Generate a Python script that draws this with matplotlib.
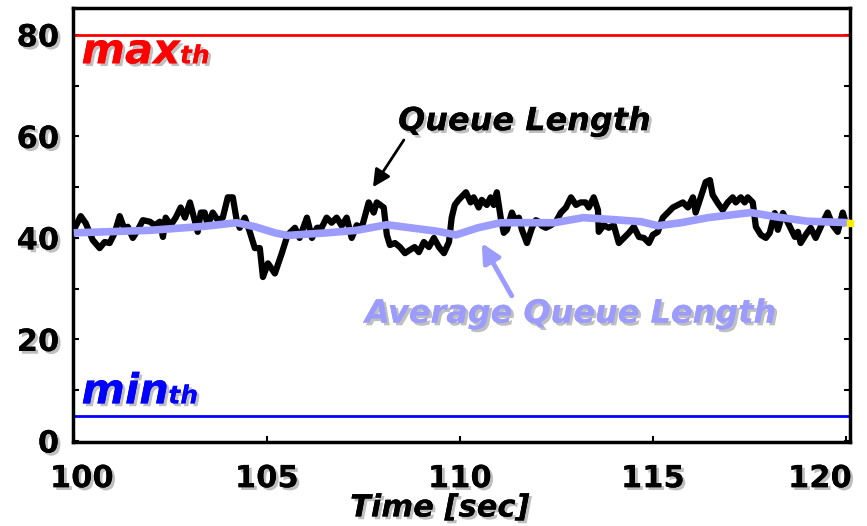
import numpy as np
import matplotlib
matplotlib.use('Agg')
import matplotlib.pyplot as plt
import matplotlib.patheffects as pe
from matplotlib.transforms import ScaledTranslation

# 큐 길이 (검은 선)
time_q = [100.03, 100.18, 100.31, 100.49, 100.67, 100.80, 100.93, 101.06, 101.19, 101.32,
          101.40, 101.53, 101.66, 101.79, 101.97, 102.10, 102.23, 102.31, 102.38, 102.51,
          102.64, 102.77, 102.88, 103.01, 103.08, 103.21, 103.29, 103.39, 103.47, 103.60,
          103.73, 103.86, 103.99, 104.12, 104.22, 104.30, 104.43, 104.56, 104.69, 104.82,
          104.90, 105.03, 105.21, 105.39, 105.54, 105.73, 105.85, 106.04, 106.17, 106.30,
          106.42, 106.55, 106.68, 106.81, 106.94, 107.07, 107.20, 107.33, 107.46, 107.64,
          107.77, 107.85, 108.03, 108.11, 108.19, 108.32, 108.45, 108.58, 108.70, 108.83,
          108.94, 109.07, 109.20, 109.33, 109.46, 109.59, 109.72, 109.79, 109.87, 109.97,
          110.16, 110.28, 110.36, 110.49, 110.57, 110.70, 110.80, 110.88, 110.96, 111.06,
          111.14, 111.22, 111.35, 111.45, 111.53, 111.61, 111.74, 111.87, 111.97, 112.05,
          112.12, 112.23, 112.36, 112.49, 112.62, 112.75, 112.88, 113.01, 113.13, 113.26,
          113.34, 113.47, 113.58, 113.60, 113.73, 113.86, 113.99, 114.12, 114.25, 114.38,
          114.51, 114.64, 114.77, 114.90, 115.00, 115.13, 115.26, 115.39, 115.52, 115.65,
          115.78, 115.91, 116.04, 116.11, 116.24, 116.37, 116.48, 116.55, 116.68, 116.81,
          116.94, 117.07, 117.15, 117.28, 117.38, 117.46, 117.59, 117.67, 117.80, 117.93,
          118.03, 118.16, 118.24, 118.37, 118.50, 118.68, 118.76, 118.83, 118.96, 119.09,
          119.22, 119.40, 119.53, 119.66, 119.79, 119.92, 120.00]
queue = [42.0, 44.3, 42.9, 39.6, 38.0, 39.2, 39.0, 41.0, 44.3, 41.6,
         42.2, 40.0, 41.6, 43.5, 43.2, 42.5, 43.2, 40.2, 44.0, 42.5,
         44.0, 46.0, 44.0, 47.0, 45.0, 41.2, 45.0, 45.0, 42.5, 45.0,
         43.5, 44.0, 48.0, 48.0, 43.5, 42.0, 44.0, 41.2, 38.0, 38.0,
         32.3, 35.0, 33.0, 37.0, 40.6, 42.0, 40.0, 44.0, 40.0, 42.0,
         42.0, 44.0, 43.0, 44.0, 42.4, 44.0, 40.0, 42.5, 42.0, 47.0,
         45.0, 47.0, 46.0, 40.6, 38.6, 39.0, 38.2, 37.0, 37.6, 38.2,
         37.2, 39.2, 38.2, 40.0, 38.2, 37.0, 39.2, 44.0, 46.5, 47.5,
         49.0, 47.0, 48.0, 46.0, 47.5, 46.5, 48.0, 46.5, 49.0, 44.0,
         41.0, 41.6, 45.0, 43.2, 44.0, 41.6, 39.0, 42.0, 43.5, 43.2,
         42.4, 42.0, 42.5, 43.2, 45.0, 46.0, 48.0, 46.5, 47.0, 47.0,
         46.0, 48.0, 45.5, 41.2, 42.5, 42.0, 42.5, 39.0, 40.0, 41.0,
         42.2, 40.2, 40.0, 39.0, 40.6, 41.2, 44.0, 45.0, 46.0, 46.5,
         47.0, 46.0, 48.0, 45.0, 48.0, 51.0, 51.4, 48.5, 46.9, 45.5,
         47.0, 48.0, 47.0, 48.0, 47.0, 48.0, 47.0, 42.2, 40.6, 40.0,
         41.0, 44.9, 41.6, 44.9, 43.0, 40.2, 41.2, 39.0, 40.6, 42.0,
         40.0, 43.0, 45.0, 42.5, 41.2, 45.0, 43.0]

# 평균 큐 길이 (연한 파란 선)
time_avg = [100.0, 101.97, 103.39, 104.22, 104.70, 105.21, 105.54, 106.55, 107.33, 108.11,
            109.43, 109.90, 110.47, 111.06, 111.60, 112.45, 113.20, 114.00, 114.70, 115.13,
            115.73, 116.43, 117.54, 118.16, 119.00, 120.10]
avg_queue = [41.0, 41.5, 42.3, 43.0, 42.2, 41.0, 40.5, 41.0, 41.5, 42.6,
             41.3, 40.6, 42.0, 43.0, 43.0, 43.0, 44.0, 43.6, 43.2, 42.4,
             43.0, 44.0, 45.0, 44.2, 43.3, 43.0]

max_th = 80
min_th = 5

x_ticks = [100, 105, 110, 115, 120]
y_ticks = [0, 20, 40, 60, 80]

avg_color = '#9c9cff'
shadow = [pe.withSimplePatchShadow(offset=(2, -2), shadow_rgbFace='0.5', alpha=0.5), pe.Normal()]
bold_it = dict(fontweight='bold', style='italic', path_effects=shadow)

fig = plt.figure(figsize=(8.67, 5.26), dpi=100)
ax = fig.add_axes([0.0842, 0.1597, 0.8958, 0.8251])

ax.axhline(max_th, color='red', lw=2)
ax.axhline(min_th, color='blue', lw=2)
ax.plot(time_q, queue, color='black', lw=4.5, zorder=2)
# 평균선은 검은 선 위에 그려짐
ax.plot(time_avg, avg_queue, color=avg_color, lw=5.5, solid_capstyle='butt', zorder=3)
ax.plot([time_avg[-1]], [avg_queue[-1]], marker='s', ms=4, color='#ffee00',
        clip_on=False, zorder=4)

ax.set_xlim(99.98, 120.1)
ax.set_ylim(-0.2, 85.3)
ax.set_xticks(x_ticks)
ax.set_yticks(y_ticks)
ax.set_yticks(np.arange(10, 85, 20), minor=True)
ax.tick_params(which='both', direction='in', length=4, width=1.5, right=True)
ax.tick_params(axis='x', pad=16)
ax.tick_params(axis='y', pad=10)
for lbl in ax.get_xticklabels() + ax.get_yticklabels():
    lbl.set_fontsize(22)
    lbl.set_fontweight('bold')
    lbl.set_path_effects(shadow)
for s in ax.spines.values():
    s.set_linewidth(2.5)

# 첫/마지막 x 라벨 위치 보정
xl = ax.get_xticklabels()
xl[0].set_transform(xl[0].get_transform() + ScaledTranslation(0.08, 0, fig.dpi_scale_trans))
xl[-1].set_transform(xl[-1].get_transform() + ScaledTranslation(-0.26, 0, fig.dpi_scale_trans))

# 임계값 라벨
ax.text(100.2, 74.4, 'max', color='red', fontsize=30, va='baseline', **bold_it)
ax.text(102.75, 74.4, 'th', color='red', fontsize=18, va='baseline', **bold_it)
ax.text(100.2, 7.4, 'min', color='blue', fontsize=30, va='baseline', **bold_it)
ax.text(102.45, 7.4, 'th', color='blue', fontsize=18, va='baseline', **bold_it)

# 주석
ax.annotate('Queue Length', xy=(107.75, 50.0), xytext=(111.68, 62.9),
            ha='center', va='center', fontsize=23, color='black', **bold_it,
            arrowprops=dict(arrowstyle='-|>', color='black', lw=2, mutation_scale=26,
                            shrinkA=0, shrinkB=0, relpos=(0.03, 0.0)))
ax.annotate('Average Queue Length', xy=(110.57, 39.0), xytext=(112.88, 25.0),
            ha='center', va='center', fontsize=23, color=avg_color, **bold_it,
            arrowprops=dict(arrowstyle='-|>', color=avg_color, lw=3.5, mutation_scale=28,
                            shrinkA=0, shrinkB=0, relpos=(0.36, 1.0)))

ax.text(0.472, -0.152, 'Time [sec]', transform=ax.transAxes, ha='center', va='center',
        fontsize=22, **bold_it)

fig.savefig('out.png', dpi=100)
